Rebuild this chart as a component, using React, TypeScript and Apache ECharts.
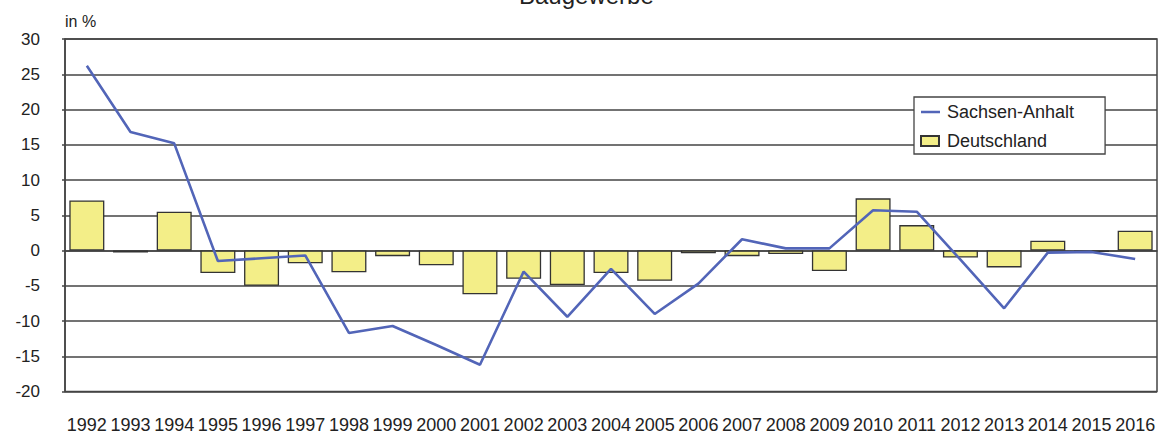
import React, { useEffect, useRef } from 'react';
import * as echarts from 'echarts';

const years = ['1992', '1993', '1994', '1995', '1996', '1997', '1998', '1999', '2000', '2001', '2002', '2003', '2004', '2005', '2006', '2007', '2008', '2009', '2010', '2011', '2012', '2013', '2014', '2015', '2016'];
const deutschland = [7.1, -0.3, 5.5, -3.2, -5.0, -1.8, -3.1, -0.8, -2.1, -6.2, -4.0, -4.9, -3.2, -4.3, -0.4, -0.8, -0.5, -2.9, 7.4, 3.6, -1.0, -2.4, 1.4, -0.2, 2.8];
const sachsenAnhalt = [26.2, 16.8, 15.2, -1.5, -1.1, -0.7, -11.7, -10.7, -13.4, -16.2, -3.0, -9.4, -2.6, -9.0, -4.7, 1.6, 0.3, 0.3, 5.7, 5.5, -1.3, -8.2, -0.3, -0.2, -1.2];

const FONT = '"Liberation Sans", Arial, sans-serif';
const LINE_COLOR = '#5265b8';
const BAR_COLOR = '#f3ee88';
const DARK = '#444';

export default function App() {
  const ref = useRef<HTMLDivElement>(null);
  useEffect(() => {
    if (!ref.current) return;
    const chart = echarts.init(ref.current, undefined, { renderer: 'svg' });
    chart.setOption({
      animation: false,
      backgroundColor: '#fff',
      textStyle: { fontFamily: FONT },
      title: {
        text: 'Baugewerbe', left: 519, top: -17, padding: 0,
        textStyle: { fontSize: 24, fontWeight: 'normal', color: '#222', fontFamily: FONT },
      },
      grid: {
        left: 65, right: 8, top: 39, bottom: 45.5,
        show: true, borderColor: DARK, borderWidth: 1.5,
      },
      graphic: [
        {
          type: 'text', left: 65, top: 13,
          style: {
            text: 'in %', fontSize: 16, fontFamily: FONT, fill: '#222',
          },
        },
      ],
      legend: {
        orient: 'vertical', left: 914, top: 97,
        backgroundColor: '#fff', borderColor: DARK, borderWidth: 1.3,
        padding: [6, 31, 4, 6],
        itemWidth: 21, itemHeight: 14, itemGap: 11,
        textStyle: { fontSize: 18, color: '#222', fontFamily: FONT, lineHeight: 18 },
        data: [
          {
            name: 'Sachsen-Anhalt',
            icon: 'path://M0,0L0.01,0M0,5.8L19,5.8L19,8.2L0,8.2ZM21,14L21.01,14',
            itemStyle: { color: LINE_COLOR, borderWidth: 0 },
          },
          {
            name: 'Deutschland',
            icon: 'path://M0,0L0.01,0M0,2L18,2L18,12L0,12ZM21,14L21.01,14',
          },
        ],
      },
      xAxis: {
        type: 'category', data: years, boundaryGap: true,
        axisLine: { lineStyle: { color: DARK, width: 1.5 } },
        axisTick: { alignWithLabel: true, length: 10, lineStyle: { color: DARK, width: 1.5 } },
        axisLabel: { interval: 0, margin: 24, fontSize: 18, color: '#222', fontFamily: FONT },
        splitLine: { show: false },
      },
      yAxis: {
        type: 'value', min: -20, max: 30, interval: 5,
        axisLine: { show: true, lineStyle: { color: DARK, width: 1.5 } },
        axisTick: { show: true, length: 3, lineStyle: { color: DARK, width: 1.5 } },
        axisLabel: { margin: 25, fontSize: 17, color: '#222', fontFamily: FONT },
        splitLine: { show: true, lineStyle: { color: DARK, width: 1.5 } },
      },
      series: [
        {
          name: 'Deutschland', type: 'bar', data: deutschland, barWidth: 35,
          itemStyle: { color: BAR_COLOR, borderColor: '#333', borderWidth: 1.3 },
        },
        {
          name: 'Sachsen-Anhalt', type: 'line', data: sachsenAnhalt,
          symbol: 'none', showSymbol: false,
          lineStyle: { color: LINE_COLOR, width: 2.6 },
          itemStyle: { color: LINE_COLOR },
        },
      ],
    });
    return () => chart.dispose();
  }, []);
  return <div ref={ref} style={{ position: 'fixed', left: 0, top: 0, width: 1165, height: 437 }} />;
}
